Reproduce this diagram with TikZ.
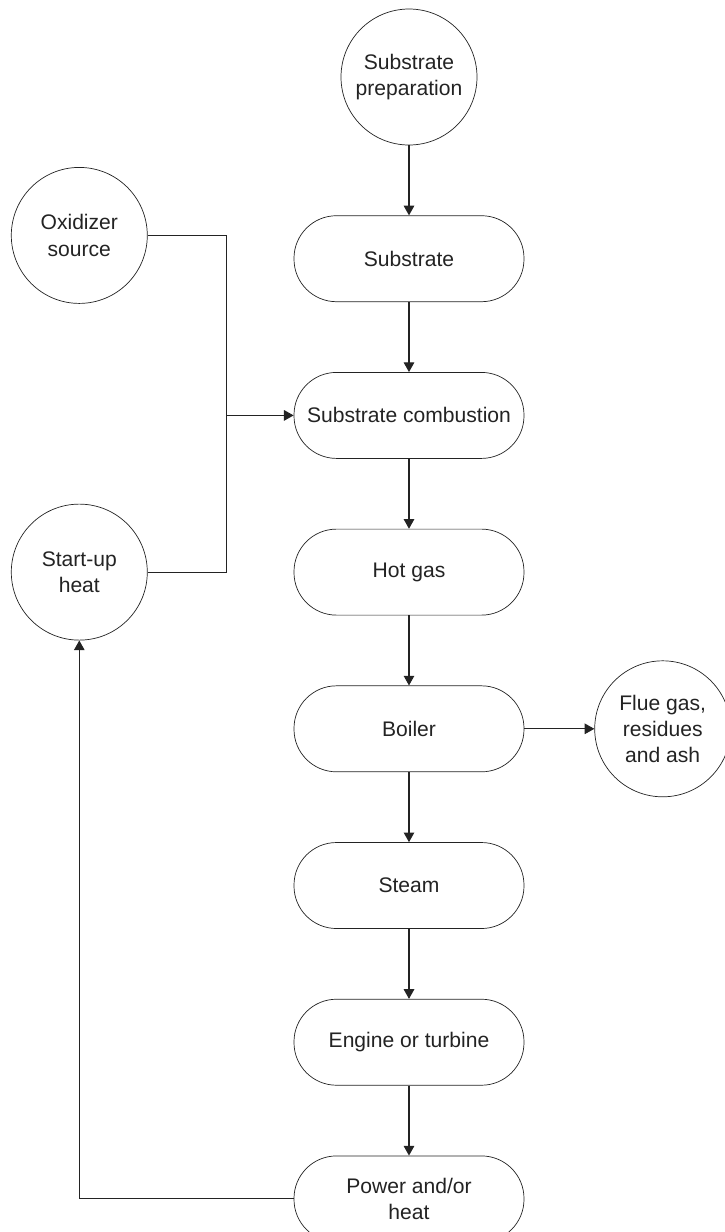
\documentclass[tikz,border=0pt]{standalone}
\usepackage{fontspec}
\setmainfont{Liberation Sans}
\usetikzlibrary{arrows.meta, positioning}
\definecolor{inkgray}{RGB}{35,35,35}

\begin{document}
\begin{tikzpicture}[
  node distance=1.4cm and 1.4cm,
  stage/.style={draw=inkgray, rounded corners=0.85cm, minimum width=4.6cm, minimum height=1.72cm, align=center, inner sep=2pt, text=inkgray, font=\fontsize{12}{15}\selectfont},
  source/.style={draw=inkgray, circle, minimum size=2.72cm, inner sep=0pt, align=center, text=inkgray, font=\fontsize{12}{15}\selectfont},
  flow/.style={-{Triangle[length=5.5pt, width=6pt]}, draw=inkgray, line width=0.6pt},
  link/.style={draw=inkgray, line width=0.6pt}
]
\useasboundingbox (0,0) rectangle (14.5,-24.64);

% Main column
\node[source] (prep) at (8.18,-1.54) {Substrate\\preparation};
\node[stage, below=of prep] (sub) {Substrate};
\node[stage, below=of sub] (comb) {Substrate combustion};
\node[stage, below=of comb] (hot) {Hot gas};
\node[stage, below=of hot] (boil) {Boiler};
\node[stage, below=of boil] (steam) {Steam};
\node[stage, below=of steam] (eng) {Engine or turbine};
\node[stage, below=of eng] (power) {Power and/or\\heat};

% Side sources
\node[source, left=2.92cm of hot] (start) {Start-up\\heat};
\node[source, above=4cm of start] (oxi) {Oxidizer\\source};
\node[source, right=of boil] (flue) {Flue gas,\\residues\\and ash};

\coordinate[left=1.34cm of comb.west] (junc);

\draw[flow] (prep) -- (sub);
\draw[flow] (sub) -- (comb);
\draw[flow] (comb) -- (hot);
\draw[flow] (hot) -- (boil);
\draw[flow] (boil) -- (steam);
\draw[flow] (steam) -- (eng);
\draw[flow] (eng) -- (power);
\draw[flow] (boil) -- (flue);

\draw[link] (oxi.east) -| (junc);
\draw[link] (start.east) -| (junc);
\draw[flow] (junc) -- (comb.west);
\draw[flow] (power.west) -| (start.south);

\end{tikzpicture}
\end{document}
